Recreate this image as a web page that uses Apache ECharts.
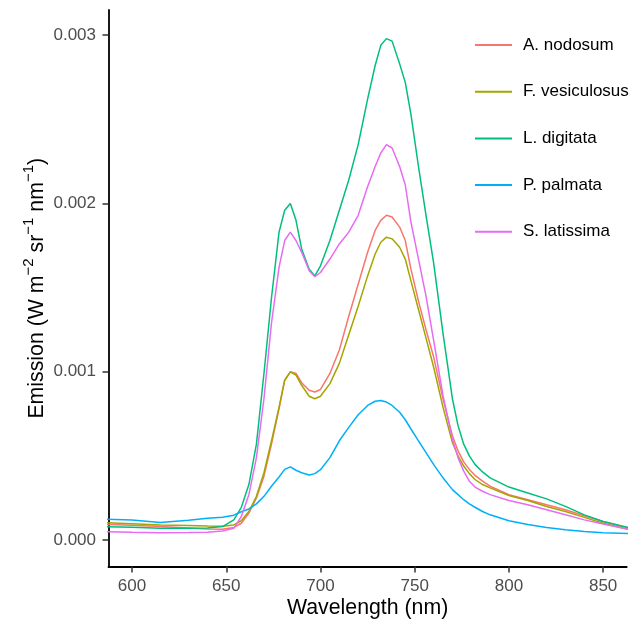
<!DOCTYPE html>
<html>
<head>
<meta charset="utf-8">
<script src="https://cdn.jsdelivr.net/npm/echarts@6/dist/echarts.min.js"></script>
<style>
  html, body { margin: 0; padding: 0; background: #fff; }
  #chart { width: 641px; height: 624px; }
</style>
</head>
<body>
<div id="chart"></div>
<script>
// wavelength (nm)
var wavelength = [585, 600, 615, 630, 640, 648, 654, 658, 662, 666, 670, 674, 678, 681, 684, 687, 690, 694, 697, 700,
                  705, 710, 715, 720, 725, 729, 732, 735, 738, 742, 745, 748, 752, 756, 760, 765, 770, 773, 776, 779,
                  782, 786, 790, 800, 810, 820, 830, 840, 850, 865];

// emission, in units of 0.001 W m-2 sr-1 nm-1
var aNodosum = [0.094, 0.088, 0.080, 0.072, 0.066, 0.064, 0.075, 0.10, 0.16, 0.25, 0.38, 0.57, 0.78, 0.95, 1.00, 0.99, 0.935, 0.89, 0.88, 0.895,
                0.99, 1.13, 1.33, 1.52, 1.71, 1.84, 1.90, 1.93, 1.92, 1.86, 1.78, 1.61, 1.42, 1.25, 1.09, 0.84, 0.62, 0.53, 0.465, 0.42,
                0.385, 0.35, 0.32, 0.27, 0.24, 0.21, 0.18, 0.145, 0.11, 0.068];
var fVesiculosus = [0.104, 0.097, 0.090, 0.086, 0.083, 0.082, 0.09, 0.115, 0.17, 0.26, 0.40, 0.59, 0.79, 0.95, 1.00, 0.98, 0.92, 0.855, 0.84, 0.855,
                0.93, 1.05, 1.22, 1.39, 1.57, 1.70, 1.77, 1.80, 1.79, 1.74, 1.67, 1.54, 1.37, 1.20, 1.03, 0.79, 0.58, 0.50, 0.44, 0.395,
                0.36, 0.33, 0.31, 0.265, 0.235, 0.20, 0.17, 0.135, 0.10, 0.06];
var lDigitata = [0.080, 0.076, 0.071, 0.070, 0.072, 0.080, 0.12, 0.195, 0.33, 0.57, 0.99, 1.44, 1.83, 1.96, 2.00, 1.90, 1.73, 1.61, 1.57, 1.63,
                1.78, 1.96, 2.14, 2.35, 2.62, 2.82, 2.94, 2.98, 2.965, 2.83, 2.72, 2.53, 2.22, 1.93, 1.65, 1.23, 0.84, 0.68, 0.57, 0.50,
                0.45, 0.405, 0.37, 0.315, 0.28, 0.245, 0.20, 0.15, 0.11, 0.07];
var pPalmata = [0.125, 0.120, 0.104, 0.118, 0.130, 0.136, 0.148, 0.168, 0.185, 0.215, 0.26, 0.32, 0.375, 0.42, 0.435, 0.415, 0.40, 0.387, 0.395, 0.418,
                0.49, 0.59, 0.67, 0.745, 0.80, 0.825, 0.83, 0.82, 0.80, 0.76, 0.715, 0.66, 0.59, 0.52, 0.45, 0.37, 0.30, 0.27, 0.24, 0.215,
                0.195, 0.17, 0.15, 0.115, 0.093, 0.075, 0.061, 0.051, 0.043, 0.039];
var sLatissima = [0.050, 0.046, 0.044, 0.045, 0.047, 0.054, 0.07, 0.14, 0.27, 0.49, 0.84, 1.29, 1.62, 1.78, 1.83, 1.78, 1.71, 1.60, 1.565, 1.59,
                1.67, 1.76, 1.83, 1.93, 2.10, 2.22, 2.30, 2.35, 2.33, 2.22, 2.11, 1.89, 1.67, 1.45, 1.19, 0.86, 0.60, 0.49, 0.41, 0.35,
                0.315, 0.29, 0.27, 0.235, 0.21, 0.18, 0.15, 0.12, 0.095, 0.06];

var speciesNames = ['A. nodosum', 'F. vesiculosus', 'L. digitata', 'P. palmata', 'S. latissima'];
var speciesValues = [aNodosum, fVesiculosus, lDigitata, pPalmata, sLatissima];
var colors = ['#F8766D', '#A3A500', '#00BF7D', '#00B0F6', '#E76BF3'];

var xTicks = [600, 650, 700, 750, 800, 850];
var yTicks = [0, 0.001, 0.002, 0.003];

var font = '"Liberation Sans", Arial, sans-serif';
var myChart = echarts.init(document.getElementById('chart'));

var series = speciesNames.map(function (name, k) {
    return {
        name: name,
        type: 'line',
        showSymbol: false,
        symbol: 'none',
        clip: true,
        lineStyle: { width: 1.5, color: colors[k] },
        itemStyle: { color: colors[k] },
        data: wavelength.map(function (w, i) { return [w, speciesValues[k][i] / 1000]; })
    };
});

var option = {
    animation: false,
    backgroundColor: '#fff',
    grid: { left: 108.5, right: 14.3, top: 10, bottom: 57.5, outerBoundsMode: 'none' },
    legend: {
        orient: 'vertical',
        left: 470,
        top: 30,
        icon: 'rect',
        itemWidth: 37,
        itemHeight: 2,
        itemGap: 26.7,
        textStyle: { fontFamily: font, fontSize: 17, color: '#000', lineHeight: 20, padding: [0, 0, 0, 6] },
        data: speciesNames
    },
    xAxis: {
        type: 'value',
        min: 587.5,
        max: 862.5,
        name: 'Wavelength (nm)',
        nameLocation: 'middle',
        nameGap: 31,
        nameMoveOverlap: false,
        nameTextStyle: { fontFamily: font, fontSize: 21.3, color: '#000' },
        axisLine: { show: true, onZero: false, lineStyle: { color: '#000', width: 1.8 } },
        axisTick: { show: true, length: 6, customValues: xTicks, lineStyle: { color: '#333', width: 1.5 } },
        axisLabel: { margin: 11, customValues: xTicks, fontFamily: font, fontSize: 17, color: '#4D4D4D' },
        splitLine: { show: false }
    },
    yAxis: {
        type: 'value',
        min: -0.000157,
        max: 0.00315,
        name: '{t|Emission (W m}{s|−2}{t| sr}{s|−1}{t| nm}{s|−1}{t|)}',
        nameLocation: 'middle',
        nameRotate: 90,
        nameGap: 56,
        nameMoveOverlap: false,
        nameTextStyle: {
            fontFamily: font,
            rich: {
                t: { fontFamily: font, fontSize: 21.3, color: '#000', lineHeight: 31 },
                s: { fontFamily: font, fontSize: 15, color: '#000', lineHeight: 15, verticalAlign: 'top' }
            }
        },
        axisLine: { show: true, onZero: false, lineStyle: { color: '#000', width: 1.8 } },
        axisTick: { show: true, length: 6, customValues: yTicks, lineStyle: { color: '#333', width: 1.5 } },
        axisLabel: {
            margin: 12.5,
            customValues: yTicks,
            fontFamily: font,
            fontSize: 17,
            color: '#4D4D4D',
            formatter: function (v) { return v.toFixed(3); }
        },
        splitLine: { show: false }
    },
    series: series
};

myChart.setOption(option);
</script>
</body>
</html>
